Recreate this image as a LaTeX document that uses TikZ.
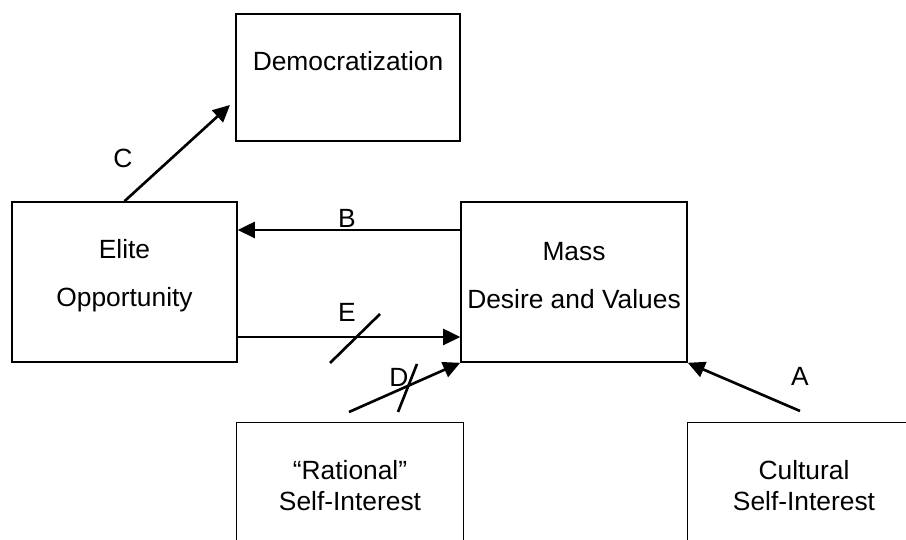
\documentclass[tikz,border=0pt]{standalone}
\usepackage{fontspec}
\setmainfont{Liberation Sans}
\usetikzlibrary{arrows.meta,positioning,calc}
\tikzstyle{box} = [rectangle, draw=black, line width=0.9pt, inner sep=0pt]
\tikzstyle{txt} = [align=center, font=\fontsize{15}{27.3}\selectfont]
\tikzstyle{txtb} = [align=center, font=\fontsize{15}{17.6}\selectfont]
\tikzstyle{lbl} = [font=\fontsize{15}{18}\selectfont]
\tikzstyle{arrow} = [line width=1.5pt,-{Triangle[length=0.34cm,width=0.32cm]}]
\tikzstyle{slash} = [line width=1.5pt]

\begin{document}
\begin{tikzpicture}
\useasboundingbox (0,0) rectangle (18.12,10.8);
% boxes
\node (demo) at (6.96,9.25) [box, minimum width=4.48cm, minimum height=2.54cm] {};
\node (elite) at (2.49,5.16) [box, minimum width=4.5cm, minimum height=3.2cm] {};
\node (mass) at (11.48,5.16) [box, minimum width=4.52cm, minimum height=3.2cm] {};
\node (rat) at (7.0,1.17) [minimum width=4.52cm, minimum height=2.34cm, inner sep=0pt] {};
\node (cult) at (15.94,1.17) [minimum width=4.36cm, minimum height=2.34cm, inner sep=0pt] {};
\draw[line width=0.9pt] (rat.south west) -- (rat.north west) -- (rat.north east) -- (rat.south east);
\draw[line width=0.9pt] (cult.south west) -- (cult.north west) -- (cult.north east);
% box texts
\node (demotxt) at (6.96,9.58) [txt] {Democratization};
\node (elitetxt) at (2.49,5.28) [txt] {Elite\\Opportunity};
\node (masstxt) at (11.48,5.28) [txt] {Mass\\Desire and Values};
\node (rattxt) at (7.0,1.08) [txtb] {“Rational”\\Self-Interest};
\node (culttxt) at (16.08,1.08) [txtb] {Cultural\\Self-Interest};
% arrows
\coordinate (ctip) at (4.60,8.70);
\coordinate (dstart) at (6.98,2.56);
\coordinate (astart) at (16.00,2.58);
\draw[arrow] (elite.north) -- (ctip);
\draw[arrow] ([yshift=1.04cm]mass.west) -- ([yshift=1.04cm]elite.east);
\draw[arrow] ([yshift=-1.10cm]elite.east) -- ([yshift=-1.10cm]mass.west);
\draw[arrow] (dstart) -- (mass.south west);
\draw[arrow] (astart) -- (mass.south east);
% blocked links
\coordinate (e1) at (6.60,3.54);
\coordinate (e2) at (7.60,4.52);
\coordinate (d1) at (7.96,2.56);
\coordinate (d2) at (8.34,3.52);
\draw[slash] (e1) -- (e2);
\draw[slash] (d1) -- (d2);
% labels
\node (lc) at (2.46,7.64) [lbl] {C};
\node (lb) at (6.94,6.44) [lbl] {B};
\node (le) at (6.94,4.56) [lbl] {E};
\node (ld) at (7.98,3.26) [lbl] {D};
\node (la) at (16.0,3.28) [lbl] {A};
\end{tikzpicture}
\end{document}
